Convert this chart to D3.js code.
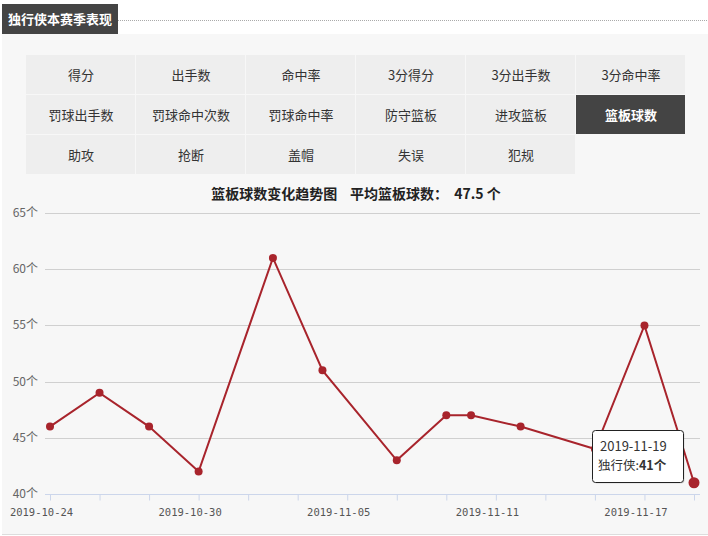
<!DOCTYPE html>
<html><head><meta charset="utf-8">
<script src="https://cdn.jsdelivr.net/npm/d3@7"></script>
<style>
html,body{margin:0;padding:0;background:#fff;}
svg{display:block;font-family:"Noto Sans CJK SC","Noto Sans",sans-serif;}
</style></head>
<body><svg id="c" width="708" height="536"></svg>
<script>
const tabs = [
  ["得分","出手数","命中率","3分得分","3分出手数","3分命中率"],
  ["罚球出手数","罚球命中次数","罚球命中率","防守篮板","进攻篮板","篮板球数"],
  ["助攻","抢断","盖帽","失误","犯规"]
];
const activeTab = "篮板球数";
const dates = ["2019-10-24","2019-10-26","2019-10-28","2019-10-30","2019-11-02","2019-11-04","2019-11-07","2019-11-09","2019-11-10","2019-11-12","2019-11-15","2019-11-17","2019-11-19"];
const values = [46,49,46,42,61,51,43,47,47,46,44,55,41];
const yTicks = [40,45,50,55,60,65];
const xLabelDates = ["2019-10-24","2019-10-30","2019-11-05","2019-11-11","2019-11-17"];
const teamName = "独行侠";
const pageTitle = "独行侠本赛季表现";
const unit = "个";

const svg = d3.select("#c");
// background panel
svg.append("rect").attr("x",2).attr("y",34).attr("width",706).attr("height",500).attr("fill","#f7f7f7");
svg.append("line").attr("x1",2).attr("x2",708).attr("y1",534.5).attr("y2",534.5).attr("stroke","#ddd");
// header
svg.append("line").attr("x1",118).attr("x2",708).attr("y1",20.5).attr("y2",20.5)
  .attr("stroke","#aaa").attr("stroke-dasharray","1,1");
svg.append("rect").attr("x",2).attr("y",4).attr("width",116).attr("height",30).attr("fill","#444");
svg.append("text").attr("x",60).attr("y",24).attr("text-anchor","middle").attr("fill","#fff")
  .attr("font-size",13).attr("font-weight","bold").text(pageTitle);

// tabs
const cw = 110, ch = 40, gx = 26, gy = 55;
tabs.forEach((row,r)=>row.forEach((t,c)=>{
  const act = t===activeTab;
  svg.append("rect").attr("x",gx+c*cw).attr("y",gy+r*ch).attr("width",cw-1).attr("height",ch-1)
    .attr("fill",act?"#444":"#eeeeee");
  svg.append("text").attr("x",gx+c*cw+cw/2).attr("y",gy+r*ch+ch/2+4.5).attr("text-anchor","middle")
    .attr("font-size",13).attr("fill",act?"#fff":"#333").attr("font-weight",act?"bold":"normal").text(t);
}));

// title
const avg = d3.mean(values);
svg.append("text").attr("x",356).attr("y",199).attr("text-anchor","middle").attr("font-size",14)
  .attr("font-weight","bold").attr("fill","#222").attr("xml:space","preserve")
  .text("篮板球数变化趋势图    平均篮板球数：  " + avg.toFixed(1) + " " + unit);

const parse = d3.timeParse("%Y-%m-%d");
const fmt = d3.timeFormat("%Y-%m-%d");
const data = dates.map((d,i)=>({date:parse(d), v:values[i]}));
const x0 = parse(dates[0]), x1 = parse(dates[dates.length-1]);
const x = d3.scaleTime().domain([x0, x1]).range([50,694]);
const y = d3.scaleLinear().domain([40,65]).range([494,213]);

// grid
svg.append("g").selectAll("line").data(yTicks.slice(1)).join("line")
  .attr("x1",45).attr("x2",700).attr("y1",d=>Math.round(y(d))+0.5).attr("y2",d=>Math.round(y(d))+0.5)
  .attr("stroke","#d0d0d0");
svg.append("g").selectAll("text").data(yTicks).join("text")
  .attr("x",38).attr("y",d=>y(d)+4).attr("text-anchor","end").attr("font-size",12).attr("fill","#666")
  .text(d=>d+unit);

// x axis
const tickVals = d3.timeDay.range(x0, d3.timeDay.offset(x1,1), 2);
const labelSet = new Set(xLabelDates);
const xa = svg.append("g").attr("transform","translate(0,494.5)")
  .call(d3.axisBottom(x).tickValues(tickVals).tickSize(6).tickFormat(d=>labelSet.has(fmt(d)) ? fmt(d) : ""));
xa.select(".domain").attr("stroke","#ccd6eb").attr("d","M45,0H700");
xa.selectAll(".tick line").attr("stroke","#ccd6eb");
xa.selectAll(".tick text").attr("fill","#555").attr("dy","1.15em").attr("x",-9)
  .attr("font-family","'DejaVu Sans Mono','Noto Sans',sans-serif").attr("font-size",10.5);

// line
const col = "#a8242c";
svg.append("path").datum(data).attr("fill","none").attr("stroke",col).attr("stroke-width",2)
  .attr("d",d3.line().x(d=>x(d.date)).y(d=>y(d.v)));
svg.append("g").selectAll("circle").data(data).join("circle")
  .attr("cx",d=>x(d.date)).attr("cy",d=>y(d.v)).attr("r",(d,i)=>i===data.length-1?5.5:4).attr("fill",col);

// tooltip
const last = data[data.length-1];
const tg = svg.append("g").attr("transform","translate(592,430)");
tg.append("rect").attr("x",1.5).attr("y",1.5).attr("width",91).attr("height",52).attr("rx",3)
  .attr("fill","rgba(0,0,0,0.12)");
tg.append("rect").attr("x",0.5).attr("y",0.5).attr("width",91).attr("height",52).attr("rx",3)
  .attr("fill","#fff").attr("stroke","#222");
tg.append("text").attr("x",8).attr("y",21).attr("font-size",13).attr("fill","#333").text(fmt(last.date));
const t2 = tg.append("text").attr("x",6).attr("y",40).attr("font-size",12.5).attr("fill","#333");
t2.append("tspan").text(teamName+":");
t2.append("tspan").attr("font-weight","bold").text(last.v+unit);
</script></body></html>
